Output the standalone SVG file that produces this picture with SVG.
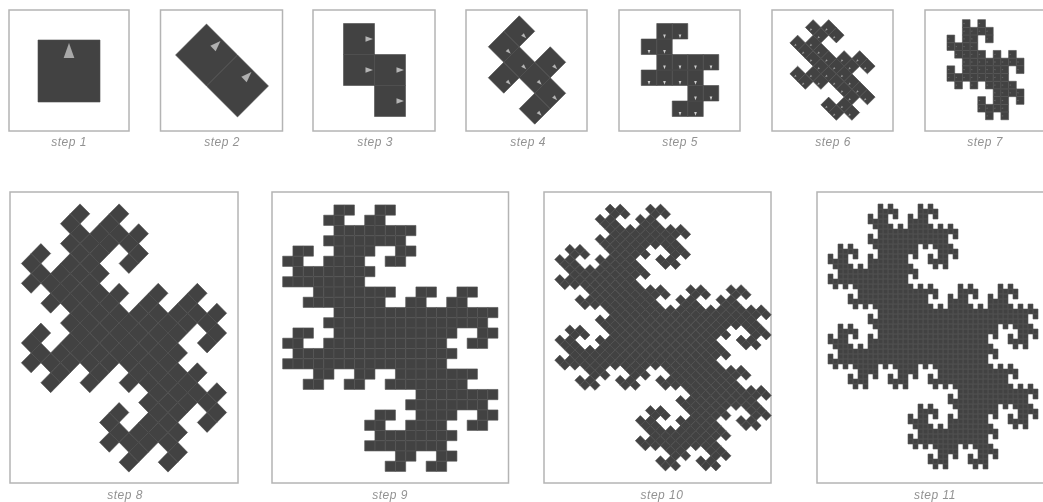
<svg xmlns="http://www.w3.org/2000/svg" width="1043" height="502" viewBox="0 0 1043 502">
<style>
.frame{fill:#fff;stroke:#b4b4b4;stroke-width:1.5}
.tile{fill:#434343;stroke:var(--grid,#4c4c4c);stroke-width:.6;vector-effect:non-scaling-stroke}
.arrow{fill:currentColor}
.cap{font-family:"Liberation Sans",Arial,sans-serif;font-style:italic;font-size:12px;letter-spacing:.5px;fill:#929292;text-anchor:middle}
</style>
<defs>
<filter id="soft" x="-2%" y="-2%" width="104%" height="104%"><feGaussianBlur stdDeviation=".6"/></filter>
<g id="a1"><rect class="tile" x="-.5" y="-.5" width="1" height="1"/><polygon class="arrow" points=".45,0 .21,-.086 .21,.086"/></g>
<g id="a2"><use href="#a1" x="0" y=".5"/><use href="#a1" x="0" y="-.5"/></g>
<g id="a3"><use href="#a2" x=".5" y=".5"/><use href="#a2" x="-.5" y="-.5"/></g>
<g id="a4"><use href="#a3" x="1" y="0"/><use href="#a3" x="-1" y="0"/></g>
<g id="a5"><use href="#a4" x="1" y="-1"/><use href="#a4" x="-1" y="1"/></g>
<g id="a6"><use href="#a5" x="0" y="-2"/><use href="#a5" x="0" y="2"/></g>
<g id="a7"><use href="#a6" x="-2" y="-2"/><use href="#a6" x="2" y="2"/></g>
<rect id="b1" class="tile" x="-.5" y="-.5" width="1" height="1"/>
<g id="b2"><use href="#b1" x="0" y=".5"/><use href="#b1" x="0" y="-.5"/></g>
<g id="b3"><use href="#b2" x=".5" y=".5"/><use href="#b2" x="-.5" y="-.5"/></g>
<g id="b4"><use href="#b3" x="1" y="0"/><use href="#b3" x="-1" y="0"/></g>
<g id="b5"><use href="#b4" x="1" y="-1"/><use href="#b4" x="-1" y="1"/></g>
<g id="b6"><use href="#b5" x="0" y="-2"/><use href="#b5" x="0" y="2"/></g>
<g id="b7"><use href="#b6" x="-2" y="-2"/><use href="#b6" x="2" y="2"/></g>
<g id="b8"><use href="#b7" x="-4" y="0"/><use href="#b7" x="4" y="0"/></g>
<g id="b9"><use href="#b8" x="-4" y="4"/><use href="#b8" x="4" y="-4"/></g>
<g id="b10"><use href="#b9" x="0" y="8"/><use href="#b9" x="0" y="-8"/></g>
<g id="b11"><use href="#b10" x="8" y="8"/><use href="#b10" x="-8" y="-8"/></g>
</defs>
<rect width="1043" height="502" fill="#fff"/>
<g filter="url(#soft)">
<g id="step1" color="#a8a8a8"><rect class="frame" x="9" y="10" width="120" height="121"/><use href="#a1" transform="translate(69 71) rotate(-90) scale(62)"/><text class="cap" x="69" y="146">step 1</text></g>
<g id="step2" color="#b0b0b0"><rect class="frame" x="160.500" y="10" width="122" height="121"/><use href="#a2" transform="translate(222 70.500) rotate(-45) scale(43.800)"/><text class="cap" x="222" y="146">step 2</text></g>
<g id="step3" color="#b4b4b4"><rect class="frame" x="313" y="10" width="122" height="121"/><use href="#a3" transform="translate(374.500 70) scale(31)"/><text class="cap" x="375" y="146">step 3</text></g>
<g id="step4" color="#b4b4b4"><rect class="frame" x="466" y="10" width="121" height="121"/><use href="#a4" transform="translate(527 70) rotate(45) scale(21.900)"/><text class="cap" x="528" y="146">step 4</text></g>
<g id="step5" color="#d0d0d0"><rect class="frame" x="619" y="10" width="121" height="121"/><use href="#a5" transform="translate(680 70) rotate(90) scale(15.500)"/><text class="cap" x="680" y="146">step 5</text></g>
<g id="step6" color="#a0a0a0"><rect class="frame" x="772" y="10" width="121" height="121"/><use href="#a6" transform="translate(832.500 70) rotate(135) scale(10.960)"/><text class="cap" x="833" y="146">step 6</text></g>
<g id="step7" color="#6a6a6a" style="--grid:#505050"><rect class="frame" x="925" y="10" width="130" height="121"/><use href="#a7" transform="translate(985.500 69.700) rotate(180) scale(7.700)"/><text class="cap" x="985" y="146">step 7</text></g>
<g id="step8" style="--grid:#484848"><rect class="frame" x="10" y="192" width="228" height="291"/><use href="#b8" transform="translate(124 338) scale(.984 1) rotate(225) scale(14.050)"/><text class="cap" x="125" y="499">step 8</text></g>
<g id="step9" style="--grid:#505050"><rect class="frame" x="272" y="192" width="236.500" height="291"/><use href="#b9" transform="translate(390.300 338.200) rotate(270) scale(10.250)"/><text class="cap" x="390" y="499">step 9</text></g>
<g id="step10" style="--grid:#4a4a4a"><rect class="frame" x="544" y="192" width="227" height="291"/><use href="#b10" transform="translate(663 337.500) rotate(315) scale(7.120)"/><text class="cap" x="662" y="499">step 10</text></g>
<g id="step11" style="--grid:#565656"><rect class="frame" x="817" y="192" width="240" height="291"/><use href="#b11" transform="translate(933 336.500) scale(5)"/><text class="cap" x="935" y="499">step 11</text></g>
</g>
</svg>
